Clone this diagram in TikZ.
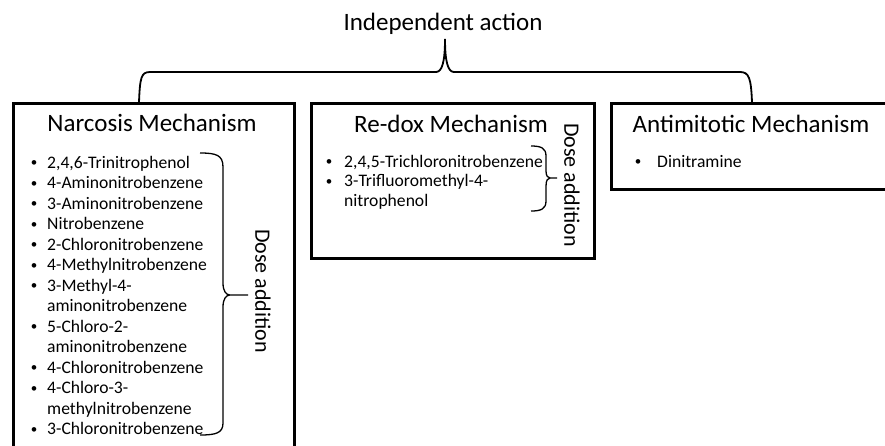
\documentclass[tikz,border=0pt]{standalone}
\usepackage{fontspec}
\setmainfont{Carlito}
\begin{document}
\begin{tikzpicture}[x=1pt,y=-1pt]
       \tikzstyle{mechbox}=[draw, line width=2.6pt, inner sep=0pt, anchor=north west]
       \tikzstyle{headnode}=[font=\fontsize{25}{30}\selectfont, anchor=base, inner sep=0pt]
       \tikzstyle{itemnode}=[font=\fontsize{17.6}{20}\selectfont, anchor=base west, inner sep=0pt]
       \tikzstyle{bulletnode}=[font=\fontsize{13}{15}\selectfont, anchor=base, inner sep=0pt, yshift=1.5pt]
       \tikzstyle{dosenode}=[font=\fontsize{22}{26}\selectfont, rotate=-90, inner sep=0pt]
       \tikzstyle{topbrace}=[line width=1.8pt]
       \tikzstyle{dosebrace}=[line width=1.3pt]
       \useasboundingbox (0,0) rectangle (885,445);
       \clip (0,0) rectangle (885,445);
       % top level
       \node[headnode] (indep) at (443,30) {Independent action};
       \coordinate (tip) at (445,39);
       % the three boxes
       \node[mechbox, minimum width=281pt, minimum height=380pt] (narc) at (12,102) {};
       \node[mechbox, minimum width=283pt, minimum height=155pt] (redox) at (310,102) {};
       \node[mechbox, minimum width=300pt, minimum height=86pt] (anti) at (610,102) {};
       \draw[topbrace] (139,102) .. controls (140,78) and (141,72) .. (150,72) -- (436,72)
          .. controls (442,72) and (445,62) .. (tip) .. controls (445,62) and (448,72) .. (454,72)
          -- (740,72) .. controls (749,72) and (751,78) .. (752,102);
       \node[headnode] (narc-head) at (152,131) {Narcosis Mechanism};
       \node[headnode] (redox-head) at (451,132) {Re-dox Mechanism};
       \node[headnode] (anti-head) at (751,132) {Antimitotic Mechanism};
       % narcosis list
       \foreach \txt [count=\k from 0] in {{2,4,6-Trinitrophenol}, 4-Aminonitrobenzene,
          3-Aminonitrobenzene, Nitrobenzene, 2-Chloronitrobenzene, 4-Methylnitrobenzene,
          3-Methyl-4-, aminonitrobenzene, 5-Chloro-2-, aminonitrobenzene,
          4-Chloronitrobenzene, 4-Chloro-3-, methylnitrobenzene, 3-Chloronitrobenzene}
         \node[itemnode] (narc-\k) at (47,{168+20.5*\k}) {\txt};
       \foreach \k in {0,...,6,8,10,11,13}
         \node[bulletnode] (narc-b\k) at (34,{168+20.5*\k}) {\textbullet};
       \draw[dosebrace] (200,153) .. controls (216,153) and (223,155) .. (223,167) -- (223,283)
          .. controls (223,291) and (226,295) .. (230,295) -- (248,295)
          (230,295) .. controls (226,295) and (223,299) .. (223,307) -- (223,423)
          .. controls (223,433) and (216,435) .. (200,435);
       \node[dosenode] (narc-dose) at (263,291) {Dose addition};
       % re-dox list
       \foreach \txt [count=\k from 0] in {{2,4,5-Trichloronitrobenzene}, 3-Trifluoromethyl-4-, nitrophenol}
         \node[itemnode] (redox-\k) at (344,{167+19.5*\k}) {\txt};
       \foreach \k in {0,1}
         \node[bulletnode] (redox-b\k) at (329,{167+19.5*\k}) {\textbullet};
       \draw[dosebrace] (531,146) .. controls (541,146) and (546,148) .. (546,156) -- (546,171)
          .. controls (546,176) and (548,178) .. (550,178) -- (557,178)
          (550,178) .. controls (548,178) and (546,180) .. (546,186) -- (546,201)
          .. controls (546,209) and (541,211) .. (531,211);
       \node[dosenode] (redox-dose) at (572,185) {Dose addition};
       % antimitotic list
       \node[itemnode] (anti-0) at (657,167) {Dinitramine};
       \node[bulletnode] (anti-b0) at (638,167) {\textbullet};
\end{tikzpicture}
\end{document}
